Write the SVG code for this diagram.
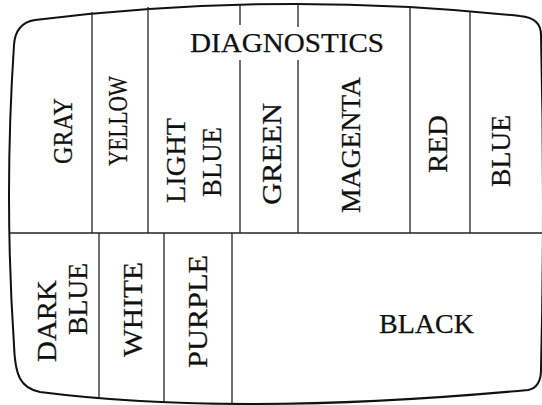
<svg xmlns="http://www.w3.org/2000/svg" width="542" height="405" viewBox="0 0 542 405">
<style>
.outline{fill:none;stroke:#111;stroke-width:2}
.div{fill:none;stroke:#222;stroke-width:1.3}
text{font-family:"Liberation Serif","Times New Roman",serif;font-size:27px;fill:#111;stroke:#111;stroke-width:0.25}
.v{text-anchor:middle;font-size:28px}
</style>
<rect width="542" height="405" fill="#fff"/>
<g id="screen">
<path class="outline" d="M35,20 Q278,-10 520,16 C532,17 541,22 541,35 Q545,200 541,370 C541,380 538,388 528,390 Q236,417 40,392 C20,388 15,375 14,345 Q4,195 14,45 C15,30 22,22 35,20 Z"/>
</g>
<g id="connectors">
<line class="div" x1="10" y1="233" x2="542" y2="233"/>
<line class="div" x1="92" y1="12" x2="92" y2="233"/>
<line class="div" x1="148" y1="7" x2="148" y2="233"/>
<line class="div" x1="240" y1="4" x2="240" y2="25"/>
<line class="div" x1="240" y1="60" x2="240" y2="233"/>
<line class="div" x1="298" y1="4" x2="298" y2="27"/>
<line class="div" x1="298" y1="60" x2="298" y2="233"/>
<line class="div" x1="410" y1="7" x2="410" y2="233"/>
<line class="div" x1="470" y1="11" x2="470" y2="233"/>
<line class="div" x1="99" y1="233" x2="99" y2="398"/>
<line class="div" x1="164" y1="233" x2="164" y2="402"/>
<line class="div" x1="232" y1="233" x2="232" y2="403"/>
</g>
<g id="diagnostics"><text x="190" y="52" textLength="194" lengthAdjust="spacingAndGlyphs">DIAGNOSTICS</text></g>
<g id="gray"><text class="v" transform="translate(72,131) rotate(-90)" textLength="66" lengthAdjust="spacingAndGlyphs">GRAY</text></g>
<g id="yellow"><text class="v" transform="translate(127,121) rotate(-90)" textLength="90" lengthAdjust="spacingAndGlyphs">YELLOW</text></g>
<g id="lightblue">
<text class="v" transform="translate(185,160.5) rotate(-90)" textLength="85" lengthAdjust="spacingAndGlyphs">LIGHT</text>
<text class="v" transform="translate(221,162) rotate(-90)" textLength="70" lengthAdjust="spacingAndGlyphs">BLUE</text>
</g>
<g id="green"><text class="v" transform="translate(281,154) rotate(-90)" textLength="102" lengthAdjust="spacingAndGlyphs">GREEN</text></g>
<g id="magenta"><text class="v" transform="translate(360,145) rotate(-90)" textLength="136" lengthAdjust="spacingAndGlyphs">MAGENTA</text></g>
<g id="red"><text class="v" transform="translate(447,144) rotate(-90)" textLength="58" lengthAdjust="spacingAndGlyphs">RED</text></g>
<g id="blue"><text class="v" transform="translate(510,151) rotate(-90)" textLength="72" lengthAdjust="spacingAndGlyphs">BLUE</text></g>
<g id="darkblue">
<text class="v" transform="translate(56,321) rotate(-90)" textLength="82" lengthAdjust="spacingAndGlyphs">DARK</text>
<text class="v" transform="translate(87,299) rotate(-90)" textLength="72" lengthAdjust="spacingAndGlyphs">BLUE</text>
</g>
<g id="white"><text class="v" transform="translate(142,309.5) rotate(-90)" textLength="95" lengthAdjust="spacingAndGlyphs">WHITE</text></g>
<g id="purple"><text class="v" transform="translate(207,311.5) rotate(-90)" textLength="113" lengthAdjust="spacingAndGlyphs">PURPLE</text></g>
<g id="black"><text x="379" y="333" textLength="95" lengthAdjust="spacingAndGlyphs">BLACK</text></g>
</svg>
